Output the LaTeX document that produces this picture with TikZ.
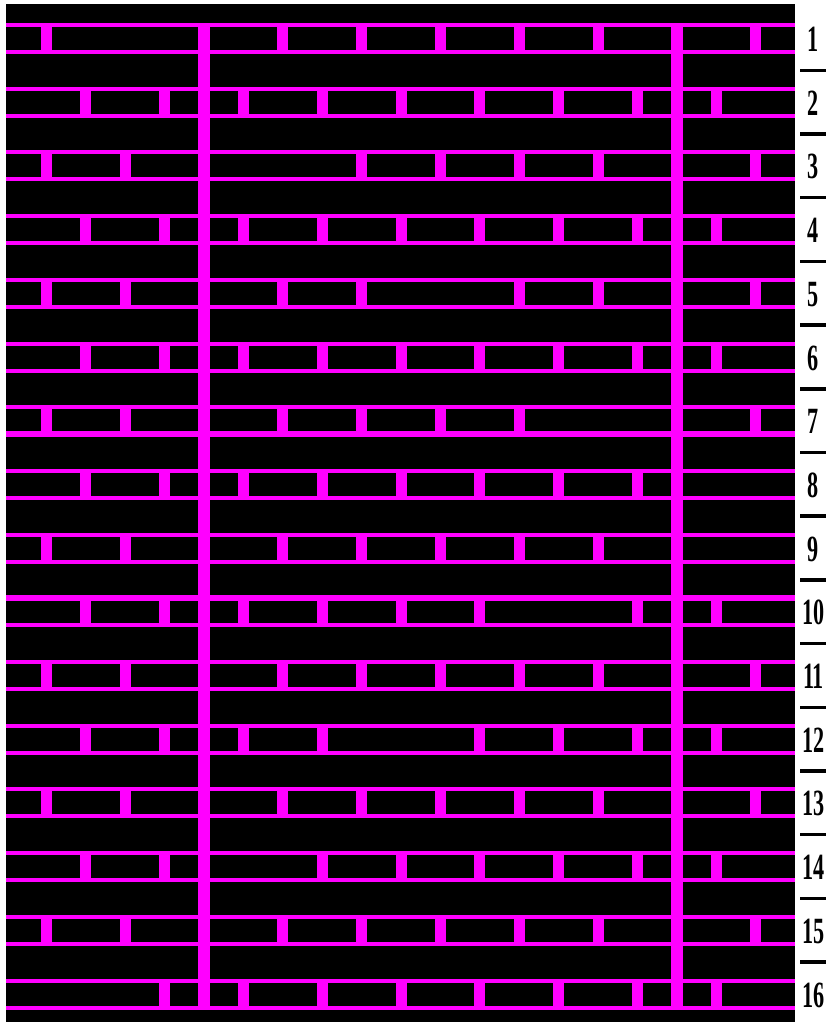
\documentclass[tikz,border=0pt]{standalone}
\usepackage{fontspec}
\setmainfont{Liberation Serif}
\definecolor{mag}{HTML}{FF00FF}
\tikzset{
  hline/.style={draw=mag,line width=4pt},
  post/.style={fill=mag},
  bar/.style={fill=mag},
  rowlabel/.style={inner sep=0pt,font=\bfseries\fontsize{37}{37}\selectfont},
  sep/.style={draw=black,line width=3.5pt}
}
\newcommand{\rowtop}[1]{(25+63.7*(#1-1))}
\begin{document}
\begin{tikzpicture}[x=1pt,y=-1pt]
\useasboundingbox (0,0) rectangle (827,1022);
\fill[white] (0,0) rectangle (827,1022);
\fill[black] (6,4.5) rectangle (795,1022);
% rows: row number / list of post offsets (in pitch units from left bar)
\foreach \r/\ks in {
  1/{-2,1,2,3,4,5,7},
  2/{-1.5,-0.5,0.5,1.5,2.5,3.5,4.5,5.5,6.5},
  3/{-2,-1,2,3,4,5,7},
  4/{-1.5,-0.5,0.5,1.5,2.5,3.5,4.5,5.5,6.5},
  5/{-2,-1,1,2,4,5,7},
  6/{-1.5,-0.5,0.5,1.5,2.5,3.5,4.5,5.5,6.5},
  7/{-2,-1,1,2,3,4,7},
  8/{-1.5,-0.5,0.5,1.5,2.5,3.5,4.5,5.5},
  9/{-2,-1,1,2,3,4,5},
  10/{-1.5,-0.5,0.5,1.5,2.5,3.5,5.5,6.5},
  11/{-2,-1,1,2,3,4,5,7},
  12/{-1.5,-0.5,0.5,1.5,3.5,4.5,5.5,6.5},
  13/{-2,-1,1,2,3,4,5,7},
  14/{-1.5,-0.5,1.5,2.5,3.5,4.5,5.5,6.5},
  15/{-2,-1,1,2,3,4,5,7},
  16/{-0.5,0.5,1.5,2.5,3.5,4.5,5.5,6.5}}{
  \pgfmathsetmacro{\yt}{25+63.7*(\r-1)}
  \pgfmathsetmacro{\yb}{\yt+27}
  \foreach \k in \ks {
    \pgfmathsetmacro{\xc}{204+78.83*\k}
    \fill[post] (\xc-5.5,\yt) rectangle (\xc+5.5,\yb);
  }
  \draw[hline] (6,\yt) -- (795,\yt);
  \draw[hline] (6,\yb) -- (795,\yb);
  \node[rowlabel] (n\r) at (813.5,\yt+14.5) {\scalebox{0.6}[1]{\r}};
}
% slightly heavier lines seen in the reference
\draw[draw=mag,line width=6pt] (6,{25+63.7*6+27}) -- (795,{25+63.7*6+27});
\draw[draw=mag,line width=6pt] (6,{25+63.7*9}) -- (795,{25+63.7*9});
% main vertical bars
\fill[bar] (198,23) rectangle (210,1009);
\fill[bar] (671,23) rectangle (683,1009);
% separators between row labels
\foreach \r in {1,...,15}{
  \pgfmathsetmacro{\yd}{25+63.7*(\r-1)+45.3}
  \coordinate (sa\r) at (800,\yd);
  \coordinate (sb\r) at (826,\yd);
  \draw[sep] (sa\r) -- (sb\r);
}
\end{tikzpicture}
\end{document}
